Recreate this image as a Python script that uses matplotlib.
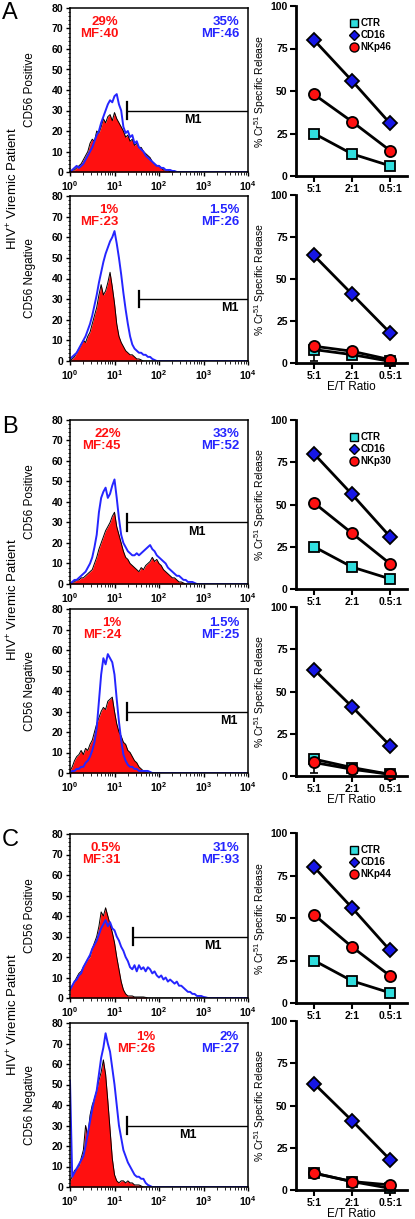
import numpy as np
import matplotlib
matplotlib.use('Agg')
import matplotlib.pyplot as plt
from matplotlib.lines import Line2D

plt.rcParams['font.family'] = ['Liberation Sans', 'DejaVu Sans']
plt.rcParams['mathtext.fontset'] = 'custom'
plt.rcParams['mathtext.rm'] = 'Liberation Sans'
plt.rcParams['mathtext.it'] = 'Liberation Sans:italic'
plt.rcParams['mathtext.bf'] = 'Liberation Sans:bold'

# FACS histograms: counts per channel, channels every 0.05 decade from 10^0
step = 0.05
a_pos_red = [0, 1, 1, 2, 3, 4, 6, 8, 10, 14, 16, 15, 20, 19, 22, 26, 24, 27, 28, 25, 29, 26, 24, 22, 20,
             17, 18, 15, 16, 13, 14, 12, 12, 10, 9, 8, 7, 5, 4, 3, 3, 2, 1, 1, 1, 0, 0.5, 0]
a_pos_blue = [0, 1, 2, 3, 2, 3, 4, 6, 8, 10, 12, 15, 18, 20, 24, 27, 30, 33, 35, 34, 37, 38, 33, 30, 22,
              19, 20, 17, 18, 14, 15, 12, 11, 10, 8, 7, 6, 5, 4, 3, 3, 2, 2, 1, 1, 1, 0.5, 0.5, 0]
a_neg_red = [0, 1, 2, 4, 6, 8, 10, 9, 12, 14, 18, 22, 26, 32, 37, 32, 34, 38, 43, 36, 28, 18, 12, 9, 7,
             5, 4, 3, 3, 2, 1, 1, 0.5, 0]
a_neg_blue = [1, 2, 3, 4, 6, 8, 10, 12, 15, 18, 22, 27, 32, 38, 43, 48, 52, 55, 58, 60, 63, 57, 50, 42, 33,
              25, 18, 12, 8, 6, 5, 4, 4, 3, 3, 2, 2, 1, 0.5, 0]
b_pos_red = [0, 1, 1, 2, 2, 3, 3, 4, 5, 6, 7, 10, 13, 17, 20, 23, 26, 28, 30, 33, 35, 28, 24, 20, 16,
             13, 12, 10, 9, 8, 7, 6, 8, 7, 9, 10, 11, 13, 11, 12, 10, 9, 7, 6, 5, 4, 3, 3, 2, 1, 1, 0.5, 0]
b_pos_blue = [0, 1, 2, 2, 3, 4, 5, 6, 8, 10, 13, 18, 24, 35, 42, 45, 47, 42, 44, 48, 51, 42, 32, 24, 20,
              18, 16, 15, 14, 14, 15, 14, 15, 16, 17, 18, 19, 17, 16, 14, 13, 12, 11, 10, 8, 7, 6, 5, 4, 4,
              3, 2, 2, 1, 1, 1, 0.5, 0]
b_neg_red = [1, 3, 6, 8, 9, 11, 9, 12, 11, 14, 16, 20, 24, 27, 30, 32, 31, 35, 36, 37, 30, 24, 20, 18, 15,
             14, 11, 10, 8, 6, 5, 3, 2, 1, 0.5, 0]
b_neg_blue = [0, 1, 1, 2, 2, 3, 3, 5, 6, 8, 11, 15, 22, 35, 48, 56, 53, 58, 56, 54, 48, 36, 25, 16, 9,
              6, 4, 3, 3, 2, 2, 1, 1, 1, 1, 1, 0.5, 0]
c_pos_red = [4, 6, 8, 10, 12, 13, 15, 17, 19, 20, 24, 27, 30, 35, 42, 40, 44, 40, 36, 32, 27, 20, 14, 8, 4,
             2, 1, 1, 1, 0.5, 0.5, 0.5, 0.5, 0.5, 0.3, 0]
c_pos_blue = [4, 6, 8, 9, 11, 12, 15, 17, 19, 21, 24, 26, 28, 31, 34, 36, 38, 35, 37, 34, 33, 30, 28, 25, 23,
              20, 18, 15, 14, 16, 13, 16, 14, 15, 13, 15, 14, 12, 13, 11, 10, 11, 9, 10, 8, 9, 8, 7, 8, 6,
              6, 5, 4, 3, 3, 2, 2, 1, 1, 1, 0.5, 0.3, 0]
c_neg_red = [3, 5, 8, 9, 10, 14, 18, 30, 25, 35, 40, 43, 47, 52, 56, 62, 55, 42, 28, 14, 6, 3, 2, 3, 3,
             2, 3, 2, 2, 1, 1, 1, 0.5, 0]
c_neg_blue = [52, 5, 7, 9, 11, 13, 15, 20, 26, 32, 38, 43, 47, 55, 63, 68, 75, 70, 66, 58, 50, 40, 30, 24, 18,
              15, 12, 10, 8, 6, 5, 5, 4, 4, 2, 1, 0.5, 0]

# percentages / mean fluorescence written on the histograms
a_pos_txt = ['29%\nMF:40', '35%\nMF:46']
a_neg_txt = ['1%\nMF:23', '1.5%\nMF:26']
b_pos_txt = ['22%\nMF:45', '33%\nMF:52']
b_neg_txt = ['1%\nMF:24', '1.5%\nMF:25']
c_pos_txt = ['0.5%\nMF:31', '31%\nMF:93']
c_neg_txt = ['1%\nMF:26', '2%\nMF:27']

# Cr51 release assays
ratios = ['5:1', '2:1', '0.5:1']
a_top_ctr = [25, 13, 6]
a_top_cd16 = [80, 56, 31]
a_top_nk = [48, 32, 15]
a_bot_ctr = [8, 5, 1]
a_bot_cd16 = [64, 41, 18]
a_bot_nk = [10, 7, 2]
b_top_ctr = [25, 13, 6]
b_top_cd16 = [80, 56, 31]
b_top_nk = [51, 33, 15]
b_bot_ctr = [10, 5, 1]
b_bot_cd16 = [63, 41, 18]
b_bot_nk = [8, 4, 1]
c_top_ctr = [25, 13, 6]
c_top_cd16 = [80, 56, 31]
c_top_nk = [52, 33, 16]
c_bot_ctr = [10, 5, 1]
c_bot_cd16 = [63, 41, 18]
c_bot_nk = [10, 5, 3]

RED = '#ff1010'
BLUE = '#2525ff'
CYAN = '#30dede'
W, H = 415., 1219.

fig = plt.figure(figsize=(4.15, 12.19), dpi=100)


def rect(left, top, right, bottom):
    return [left / W, 1 - bottom / H, (right - left) / W, (bottom - top) / H]


def hist_panel(top, bottom, red, blue, txt, red_x, m1_x, m1_lab, ylab):
    ax = fig.add_axes(rect(70, top, 248, bottom))
    xr = np.append(10 ** (np.arange(len(red)) * step), 1e4)
    yr = np.append(red, 0)
    xb = np.append(10 ** (np.arange(len(blue)) * step), 1e4)
    yb = np.append(blue, 0)
    ax.fill_between(xr, yr, color=RED, lw=0)
    ax.plot(xr, yr, color='k', lw=0.7)
    ax.plot(xb, yb, color=BLUE, lw=1.4)
    ax.set_xscale('log')
    ax.set_xlim(1, 1e4)
    ax.set_ylim(0, 80)
    ax.set_yticks(range(0, 81, 10))
    ax.set_yticks(range(0, 81, 2), minor=True)
    ax.set_xticks([1, 10, 100, 1000, 10000])
    ax.set_xticklabels([r'$\mathbf{10^{%d}}$' % i for i in range(5)])
    ax.tick_params(direction='out', labelsize=7.5, length=3, width=1, pad=2)
    ax.tick_params(which='minor', direction='out', length=1.8, width=0.6)
    plt.setp(ax.get_yticklabels(), fontweight='bold')
    for s in ax.spines.values():
        s.set_linewidth(1.1)
    # M1 gate
    ax.plot([10 ** m1_x, 1e4], [30, 30], color='k', lw=1)
    ax.plot([10 ** m1_x] * 2, [26, 34], color='k', lw=1.6)
    ax.text(10 ** m1_lab, 25.5, 'M1', ha='center', va='center', fontsize=9, fontweight='bold')
    ax.text(red_x, 0.95, txt[0], transform=ax.transAxes, ha='right', va='top', color=RED,
            fontsize=9.5, fontweight='bold', linespacing=1.0, multialignment='right')
    ax.text(0.95, 0.95, txt[1], transform=ax.transAxes, ha='right', va='top', color=BLUE,
            fontsize=9.5, fontweight='bold', linespacing=1.0, multialignment='right')
    ax.set_ylabel(ylab, fontsize=8.5)
    ax.yaxis.set_label_coords(-0.19, 0.5)
    return ax


def kill_panel(top, bottom, ctr, cd16, nk, nk_name, show_legend, show_xlabel, ctr_err=None):
    ax = fig.add_axes(rect(296, top, 407, bottom))
    x = np.arange(len(ratios))
    if ctr_err is not None:
        ax.errorbar(x, ctr, yerr=[ctr_err, [0] * 3], fmt='none', ecolor='k', elinewidth=1.2, capsize=3,
                    capthick=1.2, clip_on=False)
    ax.plot(x, ctr, '-s', color='k', lw=2, mfc=CYAN, mec='k', mew=1.3, ms=6.5, clip_on=False)
    ax.plot(x, nk, '-o', color='k', lw=2, mfc=RED, mec='k', mew=1.3, ms=8, clip_on=False)
    ax.plot(x, cd16, '-D', color='k', lw=2, mfc='#1616e6', mec='k', mew=1.3, ms=7, clip_on=False)
    ax.set_xlim(-0.474, 2.447)
    ax.set_ylim(0, 100)
    ax.set_yticks([0, 25, 50, 75, 100])
    ax.set_xticks(x)
    ax.set_xticklabels(ratios)
    ax.spines['top'].set_visible(False)
    ax.spines['right'].set_visible(False)
    ax.spines['left'].set_linewidth(2)
    ax.spines['bottom'].set_linewidth(2)
    ax.tick_params(direction='out', labelsize=7.5, length=4, width=1.5, pad=2)
    plt.setp(ax.get_yticklabels(), fontweight='bold')
    plt.setp(ax.get_xticklabels(), fontweight='bold')
    ax.set_ylabel(r'% Cr$^{51}$ Specific Release', fontsize=7.5)
    ax.yaxis.set_label_coords(-0.25, 0.5)
    if show_xlabel:
        ax.set_xlabel('E/T Ratio', fontsize=8.5, labelpad=0)
    if show_legend:
        handles = [Line2D([], [], ls='none', marker='s', mfc=CYAN, mec='k', mew=1, ms=5.5),
                   Line2D([], [], ls='none', marker='D', mfc='#1616e6', mec='k', mew=1, ms=5.5),
                   Line2D([], [], ls='none', marker='o', mfc=RED, mec='k', mew=1, ms=6.5)]
        ax.legend(handles, ['CTR', 'CD16', nk_name], loc='upper left', bbox_to_anchor=(0.45, 0.95),
                  frameon=False, handlelength=0.8, handletextpad=0.3, labelspacing=0.2,
                  borderaxespad=0, prop={'weight': 'bold', 'size': 7})
    return ax


# panel A
hist_panel(8, 172, a_pos_red, a_pos_blue, a_pos_txt, 0.27, 1.27, 2.77, 'CD56 Positive')
hist_panel(196, 361, a_neg_red, a_neg_blue, a_neg_txt, 0.27, 1.54, 3.6, 'CD56 Negative')
kill_panel(6, 176, a_top_ctr, a_top_cd16, a_top_nk, 'NKp46', True, False)
kill_panel(195, 363, a_bot_ctr, a_bot_cd16, a_bot_nk, 'NKp46', False, True, ctr_err=[7, 2, 0])

# panel B
hist_panel(420, 584, b_pos_red, b_pos_blue, b_pos_txt, 0.285, 1.27, 2.85, 'CD56 Positive')
hist_panel(609, 773, b_neg_red, b_neg_blue, b_neg_txt, 0.29, 1.27, 3.58, 'CD56 Negative')
kill_panel(420, 589, b_top_ctr, b_top_cd16, b_top_nk, 'NKp30', True, False)
kill_panel(607, 776, b_bot_ctr, b_bot_cd16, b_bot_nk, 'NKp30', False, True, ctr_err=[8, 1, 0])

# panel C
hist_panel(834, 998, c_pos_red, c_pos_blue, c_pos_txt, 0.285, 1.41, 3.22, 'CD56 Positive')
hist_panel(1023, 1187, c_neg_red, c_neg_blue, c_neg_txt, 0.48, 1.27, 2.66, 'CD56 Negative')
kill_panel(833, 1003, c_top_ctr, c_top_cd16, c_top_nk, 'NKp44', True, False)
kill_panel(1021, 1190, c_bot_ctr, c_bot_cd16, c_bot_nk, 'NKp44', False, True)

for letter, yc, yl in [('A', 189, 13), ('B', 600, 427), ('C', 1015, 840)]:
    fig.text(13 / W, 1 - yc / H, r'HIV$^{+}$ Viremic Patient', rotation=90, ha='center', va='center',
             fontsize=9.5)
    fig.text(2 / W, 1 - yl / H, letter, ha='left', va='center', fontsize=17)

fig.savefig('out.png', dpi=100)
